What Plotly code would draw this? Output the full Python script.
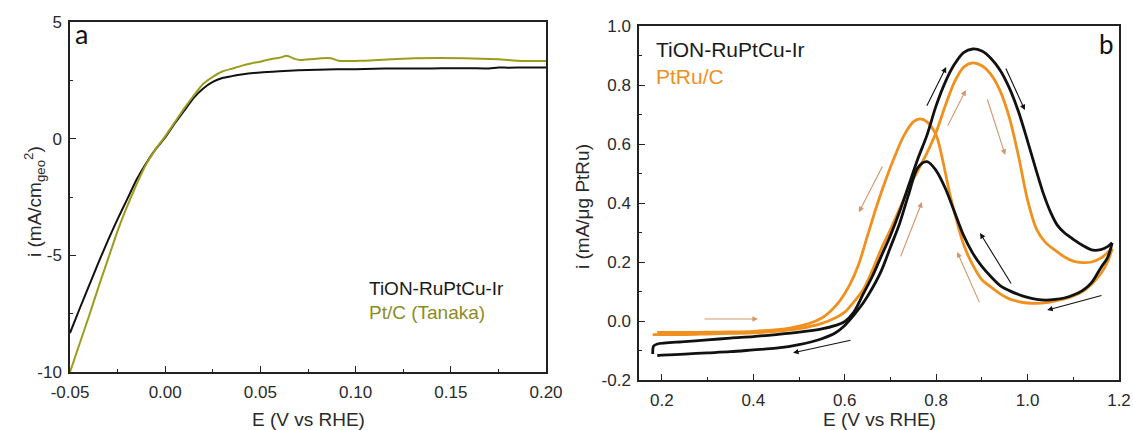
import plotly.graph_objects as go

# ---------------- panel a : polarization curves ----------------
a_E_tion = [-0.05, -0.045, -0.04, -0.035, -0.03, -0.025, -0.02, -0.015, -0.01, -0.005,
            0.0, 0.005, 0.01, 0.015, 0.02, 0.025, 0.03, 0.035, 0.04, 0.05, 0.06, 0.07,
            0.08, 0.09, 0.10, 0.11, 0.12, 0.13, 0.14, 0.15, 0.16, 0.17, 0.175, 0.18,
            0.19, 0.20]
a_i_tion = [-8.33, -7.3, -6.3, -5.3, -4.35, -3.45, -2.6, -1.75, -1.05, -0.45,
            0.05, 0.65, 1.2, 1.75, 2.15, 2.43, 2.6, 2.68, 2.75, 2.84, 2.89, 2.93,
            2.95, 2.97, 2.98, 3.0, 3.01, 3.01, 3.01, 3.02, 3.02, 3.01, 3.05, 3.04,
            3.05, 3.05]

a_E_ptc = [-0.05, -0.045, -0.04, -0.035, -0.03, -0.025, -0.02, -0.015, -0.01, -0.005,
           0.0, 0.005, 0.01, 0.015, 0.02, 0.025, 0.03, 0.035, 0.04, 0.045, 0.05, 0.055,
           0.06, 0.064, 0.068, 0.071, 0.076, 0.082, 0.087, 0.091, 0.10, 0.105, 0.119,
           0.131, 0.157, 0.175, 0.187, 0.20]
a_i_ptc = [-10.0, -8.8, -7.6, -6.35, -5.15, -3.95, -2.9, -1.95, -1.1, -0.45,
           0.1, 0.7, 1.3, 1.85, 2.35, 2.65, 2.88, 3.0, 3.12, 3.22, 3.3, 3.4,
           3.47, 3.55, 3.42, 3.37, 3.4, 3.45, 3.45, 3.34, 3.33, 3.34, 3.4,
           3.45, 3.45, 3.4, 3.33, 3.33]

a_xticks = [-0.05, 0.0, 0.05, 0.10, 0.15, 0.20]
a_xticktext = ["-0.05", "0.00", "0.05", "0.10", "0.15", "0.20"]
a_xminor = [-0.025, 0.025, 0.075, 0.125, 0.175]
a_yticks = [-10, -5, 0, 5]
a_yticktext = ["-10", "-5", "0", "5"]
a_yminor = [-7.5, -2.5, 2.5]

# ---------------- panel b : cyclic voltammograms ----------------
b_E_tion_fwd = [0.180, 0.182, 0.19, 0.25, 0.30, 0.35, 0.40, 0.45, 0.50, 0.55, 0.58,
                0.60, 0.62, 0.64, 0.66, 0.68, 0.70, 0.72, 0.74, 0.76, 0.78, 0.80,
                0.82, 0.84, 0.86, 0.88, 0.90, 0.92, 0.94, 0.96, 0.98, 1.00, 1.02,
                1.035, 1.05, 1.065, 1.08, 1.10, 1.12, 1.14, 1.16, 1.175, 1.185]
b_i_tion_fwd = [-0.112, -0.085, -0.078, -0.07, -0.064, -0.058, -0.053, -0.046, -0.038,
                -0.027, -0.015, -0.002, 0.03, 0.09, 0.15, 0.22, 0.29, 0.37, 0.46, 0.55,
                0.63, 0.73, 0.81, 0.87, 0.91, 0.922, 0.915, 0.89, 0.85, 0.79, 0.71,
                0.61, 0.505, 0.43, 0.37, 0.325, 0.3, 0.277, 0.257, 0.241, 0.242,
                0.252, 0.265]

b_E_tion_rev = [1.185, 1.175, 1.16, 1.14, 1.12, 1.10, 1.08, 1.06, 1.04, 1.02, 1.00,
                0.98, 0.96, 0.94, 0.92, 0.90, 0.88, 0.86, 0.84, 0.82, 0.80, 0.78,
                0.76, 0.74, 0.72, 0.70, 0.68, 0.66, 0.64, 0.62, 0.60, 0.58, 0.55,
                0.50, 0.45, 0.40, 0.35, 0.30, 0.25, 0.20, 0.19]
b_i_tion_rev = [0.265, 0.215, 0.18, 0.13, 0.103, 0.088, 0.078, 0.073, 0.071, 0.073,
                0.08, 0.09, 0.103, 0.12, 0.15, 0.185, 0.23, 0.29, 0.37, 0.45, 0.51,
                0.54, 0.52, 0.43, 0.33, 0.25, 0.17, 0.11, 0.06, 0.02, -0.015, -0.04,
                -0.06, -0.08, -0.092, -0.098, -0.104, -0.108, -0.112, -0.116, -0.117]

b_E_ptru_fwd = [0.18, 0.25, 0.30, 0.35, 0.40, 0.45, 0.50, 0.55, 0.58, 0.60, 0.62,
                0.64, 0.66, 0.68, 0.70, 0.72, 0.74, 0.76, 0.78, 0.80, 0.82, 0.84,
                0.86, 0.88, 0.90, 0.92, 0.94, 0.96, 0.98, 1.00, 1.02, 1.04, 1.06,
                1.08, 1.10, 1.12, 1.14, 1.16, 1.175, 1.185]
b_i_ptru_fwd = [-0.046, -0.046, -0.044, -0.042, -0.04, -0.035, -0.026, -0.008, 0.011,
                0.03, 0.065, 0.105, 0.17, 0.245, 0.31, 0.38, 0.45, 0.51, 0.57, 0.64,
                0.73, 0.81, 0.86, 0.875, 0.865, 0.835, 0.78, 0.69, 0.56, 0.41, 0.31,
                0.265, 0.24, 0.218, 0.203, 0.198, 0.2, 0.213, 0.232, 0.247]

b_E_ptru_rev = [1.185, 1.175, 1.16, 1.14, 1.12, 1.10, 1.08, 1.06, 1.04, 1.02, 1.00,
                0.98, 0.96, 0.94, 0.92, 0.90, 0.88, 0.86, 0.845, 0.83, 0.815, 0.80,
                0.78, 0.765, 0.75, 0.73, 0.71, 0.69, 0.67, 0.65, 0.63, 0.61, 0.59,
                0.57, 0.55, 0.52, 0.48, 0.44, 0.40, 0.35, 0.30, 0.25, 0.19]
b_i_ptru_rev = [0.245, 0.2, 0.16, 0.125, 0.1, 0.085, 0.075, 0.068, 0.062, 0.06,
                0.061, 0.066, 0.075, 0.092, 0.115, 0.14, 0.19, 0.26, 0.34, 0.43, 0.54,
                0.63, 0.675, 0.685, 0.675, 0.63, 0.56, 0.48, 0.39, 0.29, 0.19, 0.12,
                0.07, 0.035, 0.01, -0.01, -0.024, -0.031, -0.035, -0.037, -0.038,
                -0.039, -0.039]

b_xticks = [0.2, 0.4, 0.6, 0.8, 1.0, 1.2]
b_xticktext = ["0.2", "0.4", "0.6", "0.8", "1.0", "1.2"]
b_xminor = [0.3, 0.5, 0.7, 0.9, 1.1]
b_yticks = [-0.2, 0.0, 0.2, 0.4, 0.6, 0.8, 1.0]
b_yticktext = ["-0.2", "0.0", "0.2", "0.4", "0.6", "0.8", "1.0"]
b_yminor = [-0.1, 0.1, 0.3, 0.5, 0.7, 0.9]

# scan-direction arrows on panel b: (tail E, tail i, head E, head i, kind)
b_arrows = [
    (0.290, 0.007, 0.410, 0.007, "ptru"),
    (0.616, -0.064, 0.487, -0.108, "tion"),
    (0.778, 0.725, 0.822, 0.861, "tion"),
    (0.951, 0.861, 0.994, 0.715, "tion"),
    (0.824, 0.658, 0.865, 0.783, "ptru"),
    (0.911, 0.756, 0.951, 0.563, "ptru"),
    (0.684, 0.529, 0.631, 0.369, "ptru"),
    (0.721, 0.214, 0.769, 0.403, "ptru"),
    (0.896, 0.058, 0.846, 0.234, "ptru"),
    (0.966, 0.122, 0.896, 0.298, "tion"),
    (1.165, 0.088, 1.043, 0.037, "tion"),
]

BLACK = "#111111"
OLIVE = "#9c9c1c"
ORANGE = "#f0901e"
ARROW_OR = "#d4966a"
TXT = "#2a2a2a"
W, H = 1133, 430
FONT = "Arial, 'Liberation Sans', sans-serif"

fig = go.Figure()

fig.add_trace(go.Scatter(x=a_E_tion, y=a_i_tion, xaxis="x", yaxis="y", mode="lines",
                         line=dict(color=BLACK, width=2, shape="spline", smoothing=0.6)))
fig.add_trace(go.Scatter(x=a_E_ptc, y=a_i_ptc, xaxis="x", yaxis="y", mode="lines",
                         line=dict(color=OLIVE, width=2, shape="spline", smoothing=0.4)))

for ex, iy, col in [(b_E_ptru_fwd, b_i_ptru_fwd, ORANGE), (b_E_ptru_rev, b_i_ptru_rev, ORANGE),
                    (b_E_tion_fwd, b_i_tion_fwd, BLACK), (b_E_tion_rev, b_i_tion_rev, BLACK)]:
    fig.add_trace(go.Scatter(x=ex, y=iy, xaxis="x2", yaxis="y2", mode="lines",
                             line=dict(color=col, width=2.8, shape="spline", smoothing=0.9)))


def axis(domain, rng, tickvals, ticktext, minor_vals, anchor, standoff):
    return dict(
        domain=domain, range=rng, anchor=anchor, automargin=False,
        showline=True, mirror=True, linecolor="#222222", linewidth=1.5,
        ticks="inside", ticklen=6, tickwidth=1.3, tickcolor="#222222",
        tickvals=tickvals, ticktext=ticktext, ticklabelstandoff=standoff,
        minor=dict(tickvals=minor_vals, ticks="inside", ticklen=3.5,
                   tickwidth=1.3, tickcolor="#222222", showgrid=False),
        showgrid=False, zeroline=False,
        tickfont=dict(family=FONT, size=17, color=TXT),
    )


fig.update_layout(
    template="none",
    width=W, height=H, margin=dict(l=0, r=0, t=0, b=0, pad=0),
    paper_bgcolor="white", plot_bgcolor="white", showlegend=False,
    xaxis=axis([70 / W, 546 / W], [-0.05, 0.2], a_xticks, a_xticktext, a_xminor, "y", 4),
    yaxis=axis([58 / H, 408 / H], [-10, 5], a_yticks, a_yticktext, a_yminor, "x", 3),
    xaxis2=axis([639 / W, 1119 / W], [0.15, 1.2], b_xticks, b_xticktext, b_xminor, "y2", 4),
    yaxis2=axis([50 / H, 404 / H], [-0.2, 1.0], b_yticks, b_yticktext, b_yminor, "x2", 3),
)


def px_text(text, x, y, size, color=TXT, xanchor="left", angle=0, family=FONT):
    fig.add_annotation(text=text, x=x / W, y=1 - y / H, xref="paper", yref="paper",
                       xanchor=xanchor, yanchor="middle", showarrow=False,
                       textangle=angle, font=dict(family=family, size=size, color=color))


# axis titles
px_text("E (V vs RHE)", 308, 419, 19, xanchor="center")
px_text("E (V vs RHE)", 879, 419, 19, xanchor="center")
px_text("i (mA/cm<sub>geo</sub><sup>2</sup>)", 34, 202, 19, xanchor="center", angle=-90)
px_text("i (mA/μg PtRu)", 582, 207, 19, xanchor="center", angle=-90)

# sample labels
px_text("TiON-RuPtCu-Ir", 367, 288, 19, color="#1a1a1a")
px_text("Pt/C (Tanaka)", 367, 312, 19, color="#8c8c22")
px_text("TiON-RuPtCu-Ir", 654, 50, 21, color="#1a1a1a")
px_text("PtRu/C", 654, 76, 21, color=ORANGE)

# panel letters
px_text("a", 73, 34, 27, color="#111111", family="Lato, sans-serif")
px_text("b", 1097, 44, 26, color="#111111", family="Lato, sans-serif")

for e0, i0, e1, i1, kind in b_arrows:
    col = BLACK if kind == "tion" else ARROW_OR
    fig.add_annotation(x=e1, y=i1, ax=e0, ay=i0, xref="x2", yref="y2",
                       axref="x2", ayref="y2", text="", showarrow=True,
                       arrowhead=2, arrowsize=1.0, arrowwidth=1.1, arrowcolor=col)

fig.write_html("out.html")
